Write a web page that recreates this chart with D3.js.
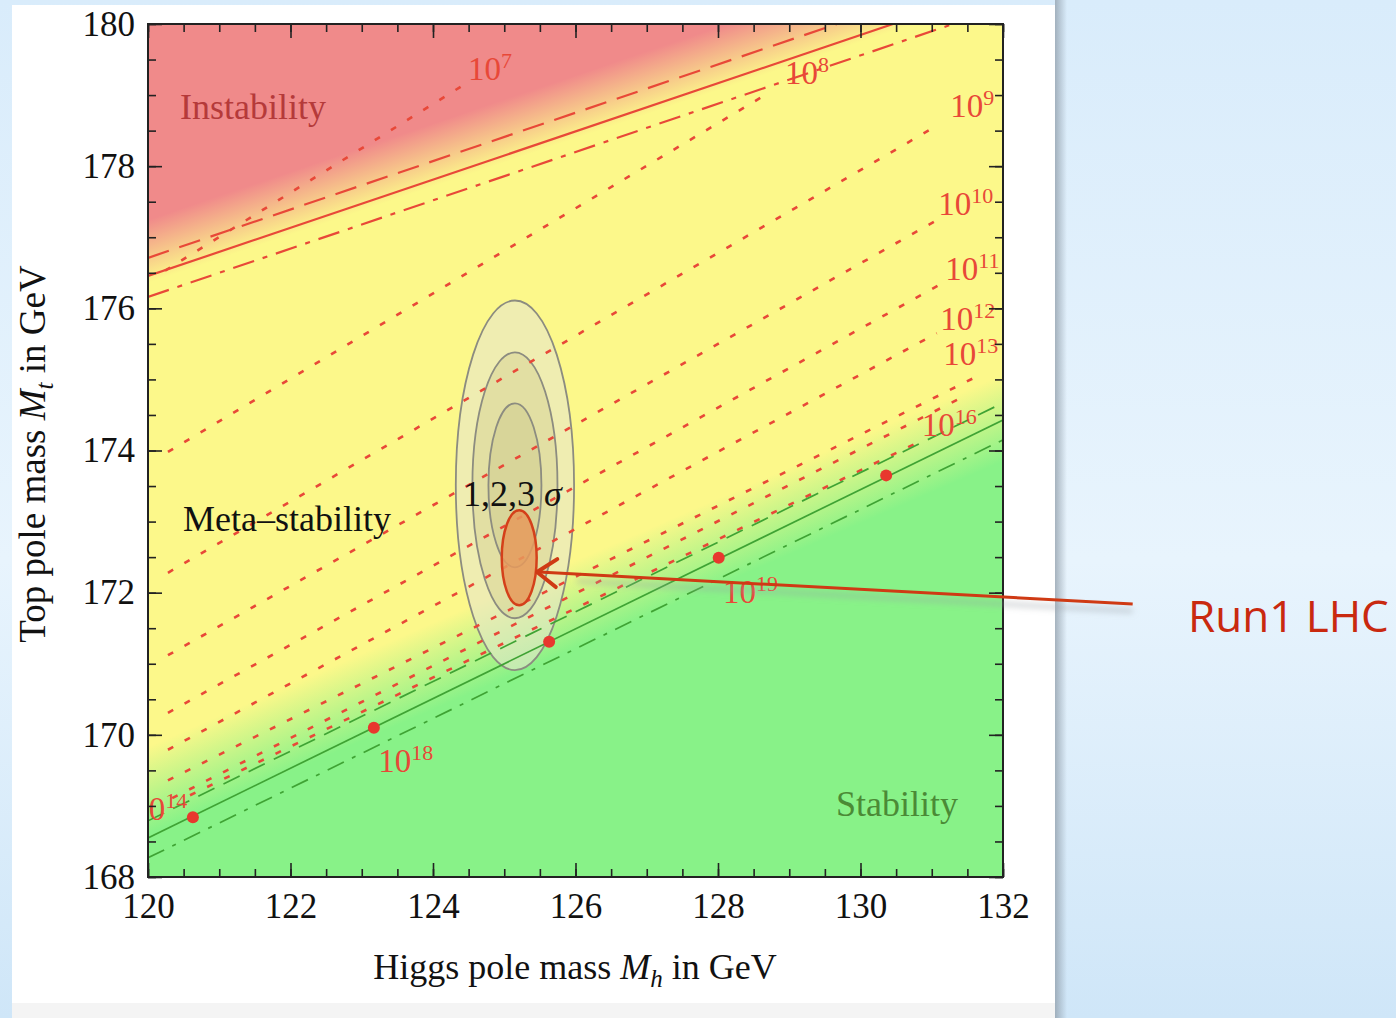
<!DOCTYPE html>
<html>
<head>
<meta charset="utf-8">
<script src="https://cdn.jsdelivr.net/npm/d3@7"></script>
<style>
  body { margin: 0; overflow: hidden; }
</style>
</head>
<body>
<svg id="chart"></svg>
<script>
// canvas
var width = 1396;
var height = 1018;

// axis ranges and ticks
const xDomain = [120, 132];
const yDomain = [168, 180];
const xMajor = [120, 122, 124, 126, 128, 130, 132];
const yMajor = [168, 170, 172, 174, 176, 178, 180];

// instability boundary (red) and stability boundary (green), as [Mh, Mt] end points
const instabSolid = [[120, 176.455], [130.456, 180]];
const instabDashed = [[120, 176.71], [129.67, 180]];
const instabDashDot = [[120, 176.16], [131.30, 180]];
const stabSolid = [[120, 168.55], [132, 174.43]];
const stabDashed = [[120, 168.79], [132, 174.67]];
const stabDashDot = [[120, 168.27], [132, 174.15]];

// edges of the coloured regions (centre of the colour fade)
const redEdge = [[120, 176.80], [129.0, 179.85]];
const greenEdge = [[120, 169.22], [132, 174.46]];

// contours of the instability scale (dotted), [Mh1, Mt1, Mh2, Mt2]
const contourLines = [
    [120.24, 176.53, 124.49, 179.18],
    [120.28, 173.98, 128.66, 179.00],
    [120.28, 172.28, 131.09, 178.58],
    [120.28, 171.12, 131.07, 177.24],
    [120.28, 170.31, 131.16, 176.36],
    [120.28, 169.79, 131.07, 175.65],
    [120.28, 169.36, 131.61, 175.03],
    [120.34, 169.11, 131.43, 174.75],
    [120.59, 169.15, 130.84, 174.13]
];

// contour labels: exponent, Mh, Mt of the text baseline start
const contourLabels = [
    ['7', 124.49, 179.21],
    ['8', 128.94, 179.16],
    ['9', 131.26, 178.69],
    ['10', 131.09, 177.31],
    ['11', 131.19, 176.40],
    ['12', 131.12, 175.70],
    ['13', 131.16, 175.20],
    ['16', 130.86, 174.20],
    ['14', 119.78, 168.80],
    ['18', 123.23, 169.48],
    ['19', 128.07, 171.85]
];

// red points on the stability line
const boundaryDots = [[120.63, 168.84], [123.17, 170.10], [125.63, 171.31], [128.01, 172.49], [130.36, 173.65]];

// measured (Mh, Mt) with 1,2,3 sigma ellipses
const sigmaCenter = [125.15, 173.51];
const sigmaRx = [0.83, 0.597, 0.372];
const sigmaRy = [2.60, 1.87, 1.154];

// Run1 LHC ellipse and arrow
const lhcCenter = [125.21, 172.49];
const lhcRadius = [0.245, 0.668];
const arrowFrom = [133.82, 171.84];
const arrowTo = [125.46, 172.29];

const red = '#e84838';

var svg = d3.select('#chart').attr('width', width).attr('height', height);
var defs = svg.append('defs');

var x = d3.scaleLinear().domain(xDomain).range([148, 1003]);
var y = d3.scaleLinear().domain(yDomain).range([877, 24]);

// slide background
var bg = defs.append('linearGradient').attr('id', 'slideBg')
    .attr('x1', 0).attr('y1', 0).attr('x2', 0).attr('y2', 1);
bg.append('stop').attr('offset', 0).attr('stop-color', '#d9ecfb');
bg.append('stop').attr('offset', 0.55).attr('stop-color', '#e8f4fd');
bg.append('stop').attr('offset', 1).attr('stop-color', '#cfe6f8');
svg.append('rect').attr('width', width).attr('height', height).attr('fill', 'url(#slideBg)');

// panel shadow + white panel
var sh = defs.append('linearGradient').attr('id', 'panelShadow');
sh.append('stop').attr('offset', 0).attr('stop-color', '#8a97a3').attr('stop-opacity', 0.7);
sh.append('stop').attr('offset', 1).attr('stop-color', '#8a97a3').attr('stop-opacity', 0);
svg.append('rect').attr('x', 1055).attr('y', 0).attr('width', 12).attr('height', height).attr('fill', 'url(#panelShadow)');
svg.append('rect').attr('x', 12).attr('y', 5).attr('width', 1043).attr('height', height - 5).attr('fill', '#f4f4f4');
svg.append('rect').attr('x', 12).attr('y', 5).attr('width', 1043).attr('height', 998).attr('fill', '#ffffff');

// plot clip
defs.append('clipPath').attr('id', 'plotClip')
    .append('rect')
    .attr('x', x(120)).attr('y', y(180))
    .attr('width', x(132) - x(120)).attr('height', y(168) - y(180));

var plot = svg.append('g').attr('clip-path', 'url(#plotClip)');

// gradient across a straight edge, fading over w pixels
function edgeGradient(id, edge, w, color, opA, opB) {
    let ax = x(edge[0][0]), ay = y(edge[0][1]);
    let bx = x(edge[1][0]), by = y(edge[1][1]);
    let len = Math.hypot(bx - ax, by - ay);
    let dx = (bx - ax) / len, dy = (by - ay) / len;
    let nx = -dy, ny = dx;
    let g = defs.append('linearGradient').attr('id', id)
        .attr('gradientUnits', 'userSpaceOnUse')
        .attr('x1', ax - nx * w / 2).attr('y1', ay - ny * w / 2)
        .attr('x2', ax + nx * w / 2).attr('y2', ay + ny * w / 2);
    g.append('stop').attr('offset', 0).attr('stop-color', color).attr('stop-opacity', opA);
    g.append('stop').attr('offset', 1).attr('stop-color', color).attr('stop-opacity', opB);
}
edgeGradient('redFade', redEdge, 60, '#f08a8a', 1, 0);
edgeGradient('greenFade', greenEdge, 80, '#88f288', 0, 1);

plot.append('rect').attr('x', x(120)).attr('y', y(180))
    .attr('width', x(132) - x(120)).attr('height', y(168) - y(180)).attr('fill', '#fcf88a');
plot.append('rect').attr('x', x(120)).attr('y', y(180))
    .attr('width', x(132) - x(120)).attr('height', y(168) - y(180)).attr('fill', 'url(#redFade)');
plot.append('rect').attr('x', x(120)).attr('y', y(180))
    .attr('width', x(132) - x(120)).attr('height', y(168) - y(180)).attr('fill', 'url(#greenFade)');

// sigma ellipses
plot.selectAll('ellipse.sigma')
    .data(sigmaRx)
    .enter()
    .append('ellipse')
    .attr('class', 'sigma')
    .attr('cx', x(sigmaCenter[0]))
    .attr('cy', y(sigmaCenter[1]))
    .attr('rx', (d) => x(sigmaCenter[0] + d) - x(sigmaCenter[0]))
    .attr('ry', (d, i) => y(sigmaCenter[1] - sigmaRy[i]) - y(sigmaCenter[1]))
    .attr('fill', (d, i) => i == 0 ? '#e6e6cc' : '#bdb87a')
    .attr('fill-opacity', (d, i) => i == 0 ? 0.6 : 0.25)
    .attr('stroke', '#8c8c80')
    .attr('stroke-width', 1.8);

var line = d3.line().x((d) => x(d[0])).y((d) => y(d[1]));

// dotted contours
plot.selectAll('path.contour')
    .data(contourLines)
    .enter()
    .append('path')
    .attr('class', 'contour')
    .attr('d', (d) => line([[d[0], d[1]], [d[2], d[3]]]))
    .attr('fill', 'none')
    .attr('stroke', red)
    .attr('stroke-width', 2.6)
    .attr('stroke-dasharray', '6,13');

function boundary(pts, color, dash, w) {
    plot.append('path')
        .attr('d', line(pts))
        .attr('fill', 'none')
        .attr('stroke', color)
        .attr('stroke-width', w)
        .attr('stroke-dasharray', dash);
}
boundary(instabSolid, red, null, 2.2);
boundary(instabDashed, red, '22,11', 2.2);
boundary(instabDashDot, red, '22,9,5,9', 2.2);
boundary(stabSolid, '#3fa334', null, 1.7);
boundary(stabDashed, '#3fa334', '18,10', 1.7);
boundary(stabDashDot, '#3fa334', '18,9,4,9', 1.7);

plot.selectAll('circle.dot')
    .data(boundaryDots)
    .enter()
    .append('circle')
    .attr('class', 'dot')
    .attr('cx', (d) => x(d[0]))
    .attr('cy', (d) => y(d[1]))
    .attr('r', 6)
    .attr('fill', '#e8382e');

// region labels
var serif = 'Liberation Serif, Times New Roman, serif';
plot.append('text').attr('x', 180).attr('y', 119).text('Instability')
    .attr('font-family', serif).attr('font-size', 36).attr('fill', '#b53a3a');
plot.append('text').attr('x', 183).attr('y', 531).text('Meta\u2013stability')
    .attr('font-family', serif).attr('font-size', 36).attr('fill', '#111');
plot.append('text').attr('x', 836).attr('y', 816).text('Stability')
    .attr('font-family', serif).attr('font-size', 36).attr('fill', '#4b8a36');

var sig = plot.append('text').attr('x', 463).attr('y', 506)
    .attr('font-family', serif).attr('font-size', 36).attr('fill', '#111');
sig.append('tspan').text('1,2,3 ');
sig.append('tspan').attr('font-style', 'italic').text('\u03c3');

// contour labels
var lab = plot.selectAll('text.clab')
    .data(contourLabels)
    .enter()
    .append('text')
    .attr('class', 'clab')
    .attr('x', (d) => x(d[1]))
    .attr('y', (d) => y(d[2]))
    .attr('font-family', serif)
    .attr('font-size', 33)
    .attr('fill', red);
lab.append('tspan').text('10');
lab.append('tspan').attr('dy', -12).attr('font-size', 22).text((d) => d[0]);

// LHC ellipse
plot.append('ellipse')
    .attr('cx', x(lhcCenter[0]))
    .attr('cy', y(lhcCenter[1]))
    .attr('rx', x(lhcCenter[0] + lhcRadius[0]) - x(lhcCenter[0]))
    .attr('ry', y(lhcCenter[1] - lhcRadius[1]) - y(lhcCenter[1]))
    .attr('fill', '#e69a5c')
    .attr('fill-opacity', 0.85)
    .attr('stroke', '#d4401a')
    .attr('stroke-width', 2.5);

// axes: ticks pointing inward on all four sides
var minorX = d3.range(120, 132.001, 0.5);
var minorY = d3.range(168, 180.001, 0.5);
var axes = svg.append('g').attr('font-family', serif);

function styleAxis(g) {
    g.select('.domain').remove();
    g.selectAll('line').attr('stroke', '#222').attr('stroke-width', 1.6);
    g.selectAll('text').attr('font-family', serif).attr('font-size', 35).attr('fill', '#111');
}

axes.append('g').attr('transform', `translate(0,${y(168)})`)
    .call(d3.axisBottom(x).tickValues(minorX).tickSize(-8).tickFormat(''))
    .call(styleAxis);
axes.append('g').attr('transform', `translate(0,${y(168)})`)
    .call(d3.axisBottom(x).tickValues(xMajor).tickSize(-14).tickPadding(16).tickFormat(d3.format('d')))
    .call(styleAxis);
axes.append('g').attr('transform', `translate(0,${y(180)})`)
    .call(d3.axisTop(x).tickValues(minorX).tickSize(-8).tickFormat(''))
    .call(styleAxis);
axes.append('g').attr('transform', `translate(0,${y(180)})`)
    .call(d3.axisTop(x).tickValues(xMajor).tickSize(-14).tickFormat(''))
    .call(styleAxis);
axes.append('g').attr('transform', `translate(${x(120)},0)`)
    .call(d3.axisLeft(y).tickValues(minorY).tickSize(-8).tickFormat(''))
    .call(styleAxis);
axes.append('g').attr('transform', `translate(${x(120)},0)`)
    .call(d3.axisLeft(y).tickValues(yMajor).tickSize(-14).tickPadding(13).tickFormat(d3.format('d')))
    .call(styleAxis);
axes.append('g').attr('transform', `translate(${x(132)},0)`)
    .call(d3.axisRight(y).tickValues(minorY).tickSize(-8).tickFormat(''))
    .call(styleAxis);
axes.append('g').attr('transform', `translate(${x(132)},0)`)
    .call(d3.axisRight(y).tickValues(yMajor).tickSize(-14).tickFormat(''))
    .call(styleAxis);

svg.append('rect')
    .attr('x', x(120)).attr('y', y(180))
    .attr('width', x(132) - x(120)).attr('height', y(168) - y(180))
    .attr('fill', 'none').attr('stroke', '#222').attr('stroke-width', 2);

// axis titles
var xt = svg.append('text').attr('x', 575).attr('y', 979).attr('text-anchor', 'middle')
    .attr('font-family', serif).attr('font-size', 36).attr('fill', '#111');
xt.append('tspan').text('Higgs pole mass ');
xt.append('tspan').attr('font-style', 'italic').text('M');
xt.append('tspan').attr('font-style', 'italic').attr('font-size', 25).attr('dy', 8).text('h');
xt.append('tspan').attr('dy', -8).text(' in GeV');

var yt = svg.append('text').attr('transform', 'translate(45,454) rotate(-90)').attr('text-anchor', 'middle')
    .attr('font-family', serif).attr('font-size', 37).attr('fill', '#111');
yt.append('tspan').text('Top pole mass ');
yt.append('tspan').attr('font-style', 'italic').text('M');
yt.append('tspan').attr('font-style', 'italic').attr('font-size', 25).attr('dy', 8).text('t');
yt.append('tspan').attr('dy', -8).text(' in GeV');

// arrow to the Run1 LHC ellipse
var shadow = defs.append('filter').attr('id', 'soft').attr('x', -0.1).attr('y', -2).attr('width', 1.2).attr('height', 5);
shadow.append('feGaussianBlur').attr('stdDeviation', 3);
svg.append('line')
    .attr('x1', x(arrowFrom[0])).attr('y1', y(arrowFrom[1]) + 7)
    .attr('x2', x(arrowTo[0]) + 40).attr('y2', y(arrowTo[1]) + 9)
    .attr('stroke', '#9aa0a6').attr('stroke-opacity', 0.5).attr('stroke-width', 4)
    .attr('filter', 'url(#soft)');

var ax1 = x(arrowFrom[0]), ay1 = y(arrowFrom[1]);
var ax2 = x(arrowTo[0]), ay2 = y(arrowTo[1]);
var ang = Math.atan2(ay1 - ay2, ax1 - ax2);
var headLen = 24, headAng = 0.62;
svg.append('line')
    .attr('x1', ax1).attr('y1', ay1).attr('x2', ax2 + 2).attr('y2', ay2)
    .attr('stroke', '#cf3a14').attr('stroke-width', 3);
svg.append('path')
    .attr('d', `M${ax2 + headLen * Math.cos(ang - headAng)},${ay2 + headLen * Math.sin(ang - headAng)}` +
        `L${ax2},${ay2}` +
        `L${ax2 + headLen * Math.cos(ang + headAng)},${ay2 + headLen * Math.sin(ang + headAng)}`)
    .attr('fill', 'none')
    .attr('stroke', '#cf3a14')
    .attr('stroke-width', 4)
    .attr('stroke-linecap', 'round')
    .attr('stroke-linejoin', 'round');

svg.append('text').attr('x', 1188).attr('y', 632).text('Run1 LHC')
    .attr('font-family', 'Open Sans, sans-serif').attr('font-size', 44).attr('fill', '#c9290f');
</script>
</body>
</html>
